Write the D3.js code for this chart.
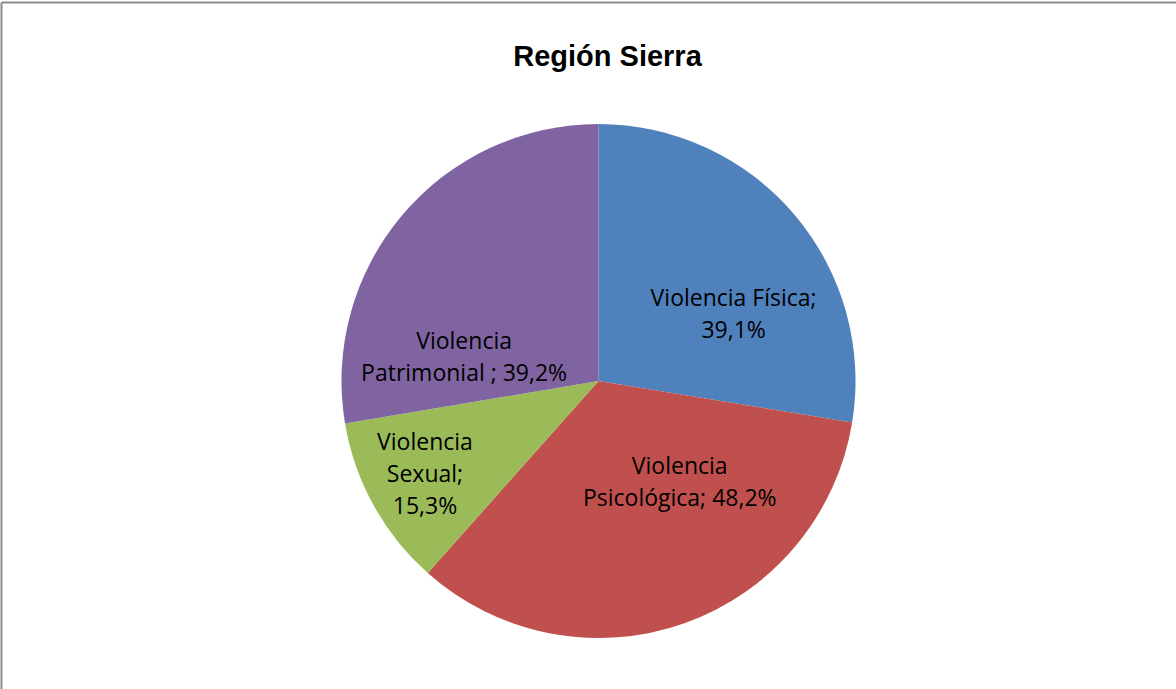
<!DOCTYPE html>
<html lang="es">
<head>
<meta charset="UTF-8">
<title>Región Sierra</title>
<script src="https://d3js.org/d3.v7.min.js"></script>
<style>
  body { margin: 0; background: #fff; }
  svg { display: block; }
</style>
</head>
<body>
<div id="chart"></div>
<script>
// data
var categories = ["Violencia Física", "Violencia Psicológica", "Violencia Sexual", "Violencia Patrimonial"];
var values = [39.1, 48.2, 15.3, 39.2];
var labelLines = [
  ["Violencia Física;", "39,1%"],
  ["Violencia", "Psicológica; 48,2%"],
  ["Violencia", "Sexual;", "15,3%"],
  ["Violencia", "Patrimonial ; 39,2%"]
];
var colors = ["#4f81bd", "#c0504d", "#9bbb59", "#8064a2"];
// nudges applied to the label anchor (Excel best-fit placement)
var labelNudge = [[-2, 50], [21, -69], [-16, 6], [3, 92]];

var width = 1176, height = 689;
var cx = 598.5, cy = 381, radius = 257;

var svg = d3.select("#chart").append("svg")
    .attr("width", width)
    .attr("height", height);

// chart frame (top and left edges visible)
svg.append("line").attr("x1", 1.5).attr("y1", 2.5).attr("x2", width).attr("y2", 2.5)
    .attr("stroke", "#8c8c8c").attr("stroke-width", 2);
svg.append("line").attr("x1", 1.5).attr("y1", 2.5).attr("x2", 1.5).attr("y2", height)
    .attr("stroke", "#8c8c8c").attr("stroke-width", 2);

svg.append("text")
    .attr("x", 607.5)
    .attr("y", 66)
    .attr("text-anchor", "middle")
    .style("font-family", "'Liberation Sans', Arial, sans-serif")
    .style("font-weight", "bold")
    .style("font-size", "29px")
    .text("Región Sierra");

var pie = d3.pie().sort(null).value(function (d) { return d; });
var arcs = pie(values);
var arc = d3.arc().innerRadius(0).outerRadius(radius);
var labelArc = d3.arc().innerRadius(180).outerRadius(180);

var g = svg.append("g").attr("transform", "translate(" + cx + "," + cy + ")");

g.selectAll("path")
    .data(arcs)
    .enter()
    .append("path")
    .attr("d", arc)
    .attr("fill", function (d, i) { return colors[i]; });

var lineH = 32;
g.selectAll("text.lbl")
    .data(arcs)
    .enter()
    .append("text")
    .attr("class", "lbl")
    .attr("text-anchor", "middle")
    .style("font-family", "'Open Sans', sans-serif")
    .style("font-size", "23px")
    .attr("fill", "#000")
    .each(function (d, i) {
        var c = labelArc.centroid(d);
        var x = c[0] + labelNudge[i][0];
        var y = c[1] + labelNudge[i][1];
        var lines = labelLines[i];
        var top = y - (lines.length - 1) * lineH / 2;
        d3.select(this).selectAll("tspan")
            .data(lines)
            .enter()
            .append("tspan")
            .attr("x", x)
            .attr("y", function (l, k) { return top + k * lineH; })
            .attr("dy", "0.35em")
            .text(function (l) { return l; });
    });
</script>
</body>
</html>
